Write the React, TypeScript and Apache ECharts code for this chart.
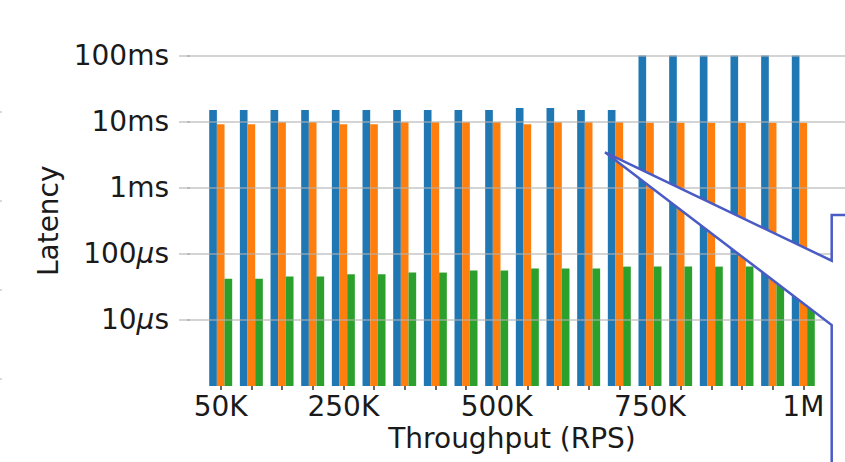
import React, { useEffect, useRef } from "react";
import * as echarts from "echarts";

// Throughput (K requests per second) for each bar group
const throughputK = [50, 100, 150, 200, 250, 300, 350, 400, 450, 500, 550, 600, 650, 700, 750, 800, 850, 900, 950, 1000];
// Latencies in microseconds
const blueLatencyUs = [15000, 15000, 15000, 15000, 15000, 15000, 15000, 15000, 15000, 15000, 16000, 16000, 15000, 15000, 100000, 100000, 100000, 100000, 100000, 100000];
const orangeLatencyUs = [9100, 9100, 9800, 9800, 9100, 9100, 9800, 9800, 9800, 9800, 9100, 9800, 9800, 9800, 9600, 9600, 9600, 9600, 9600, 9600];
const greenLatencyUs = [42, 42, 45.5, 45.5, 49, 49, 52, 52, 56, 56, 60, 60, 60, 64, 64, 64, 64, 64, 64, 64];
// Labelled x ticks
const xLabelValues = [50, 250, 500, 750, 1000];
const xLabelTexts = ["50K", "250K", "500K", "750K", "1M"];
// y tick labels by power of ten (in µs)
const yTickLabels: Record<string, string> = {
  "1": "{n|10}{mu|µ}{n|s}",
  "2": "{n|100}{mu|µ}{n|s}",
  "3": "{n|1ms}",
  "4": "{n|10ms}",
  "5": "{n|100ms}",
};

const FONT = "DejaVu Sans";
const FS = 28;

export default function App() {
  const ref = useRef<HTMLDivElement>(null);
  useEffect(() => {
    document.body.style.margin = "0";
    const chart = echarts.init(ref.current!, null, { renderer: "svg" });
    const mk = (name: string, vals: number[], color: string) => ({
      name,
      type: "bar",
      data: throughputK.map((x, i) => [x, vals[i]]),
      barWidth: 7.66,
      barGap: "0%",
      itemStyle: { color },
      z: 2,
    });
    const faintMarks = [112, 201, 290, 379].map((y) => ({
      type: "line",
      shape: { x1: 0, y1: y, x2: 2, y2: y },
      style: { stroke: "#cccccc", lineWidth: 1.5 },
      z: 100,
    }));
    chart.setOption({
      animation: false,
      backgroundColor: "#ffffff",
      grid: { left: 179, right: 0, top: 55.5, bottom: 76 },
      xAxis: {
        type: "value",
        min: -18,
        max: 1068,
        name: "Throughput (RPS)",
        nameLocation: "middle",
        nameGap: 37,
        nameTextStyle: { fontFamily: FONT, fontSize: FS, color: "#1a1a1a" },
        axisLine: { show: false },
        splitLine: { show: false },
        axisTick: {
          show: true,
          length: 4,
          customValues: throughputK,
          lineStyle: { color: "#333333", width: 1.5 },
        },
        axisLabel: {
          customValues: xLabelValues,
          margin: 6,
          fontFamily: FONT,
          fontSize: FS,
          color: "#1a1a1a",
          formatter: (v: number) => {
            const i = xLabelValues.indexOf(Math.round(v));
            return i >= 0 ? xLabelTexts[i] : "";
          },
        },
      },
      yAxis: {
        type: "log",
        logBase: 10,
        min: 1,
        max: 100000,
        z: 3,
        name: "Latency",
        nameLocation: "middle",
        nameGap: 108,
        nameTextStyle: { fontFamily: FONT, fontSize: FS, color: "#1a1a1a" },
        axisLine: { show: false },
        axisTick: { show: true, length: 3, lineStyle: { color: "#b0b0b0", width: 1.5 } },
        splitLine: {
          show: true,
          showMinLine: false,
          lineStyle: { color: "rgba(176,176,176,0.55)", width: 2 },
        },
        axisLabel: {
          margin: 10,
          showMinLabel: false,
          fontFamily: FONT,
          fontSize: FS,
          color: "#1a1a1a",
          formatter: (v: number) => {
            const p = Math.round(Math.log10(v));
            return yTickLabels[String(p)] ?? "";
          },
          rich: {
            n: { fontFamily: FONT, fontSize: FS, color: "#1a1a1a" },
            mu: { fontFamily: FONT, fontSize: FS, color: "#1a1a1a", fontStyle: "italic" },
          },
        },
      },
      series: [
        mk("blue", blueLatencyUs, "#1f77b4"),
        mk("orange", orangeLatencyUs, "#ff7f0e"),
        mk("green", greenLatencyUs, "#2ca02c"),
      ],
      graphic: [
        {
          type: "polygon",
          z: 100,
          shape: {
            points: [
              [605, 152.3],
              [831.7, 260.7],
              [831.7, 215],
              [848, 215],
              [848, 465],
              [831.7, 465],
              [831.7, 325],
            ],
          },
          style: { fill: "#ffffff", stroke: "#4a5bc4", lineWidth: 2.5, lineJoin: "miter" },
        },
        ...faintMarks,
      ],
    });
    return () => chart.dispose();
  }, []);
  return <div ref={ref} style={{ position: "fixed", left: 0, top: 0, width: 845, height: 462 }} />;
}
